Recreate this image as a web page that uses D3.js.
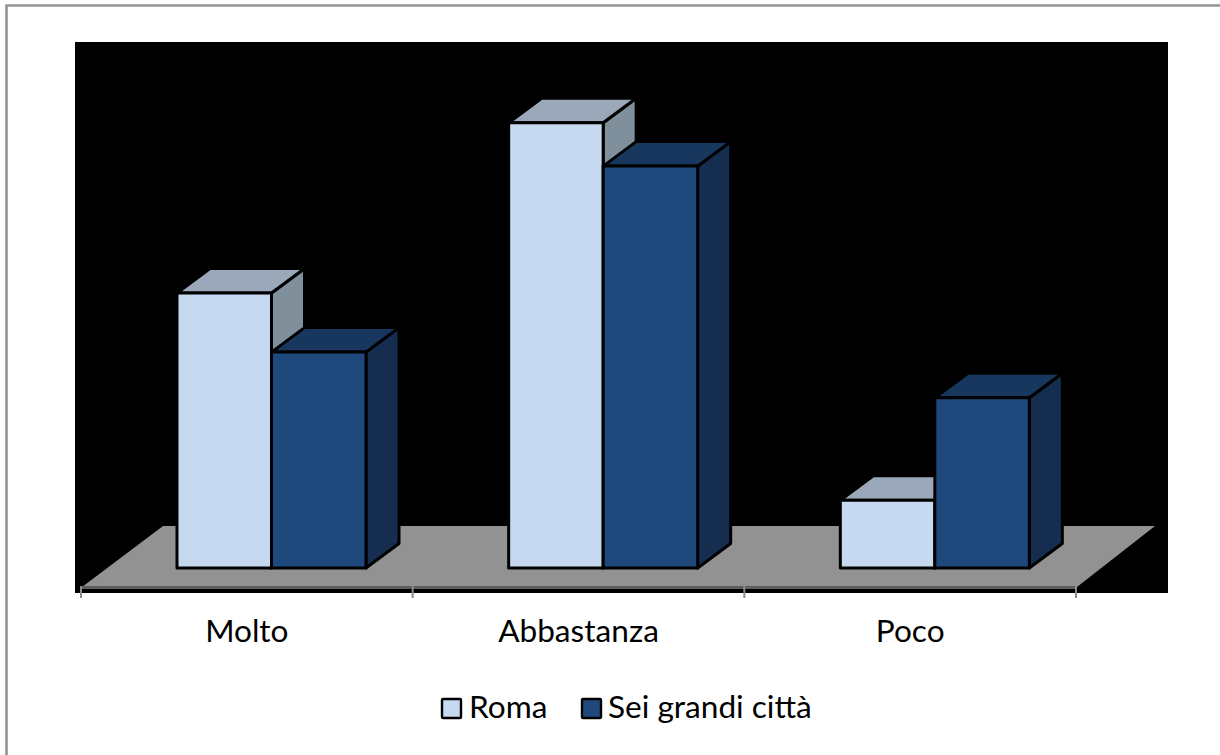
<!DOCTYPE html>
<html><head><meta charset="utf-8">
<script src="https://cdnjs.cloudflare.com/ajax/libs/d3/7.8.5/d3.min.js"></script>
<style>html,body{margin:0;padding:0;background:#fff}svg{display:block}text{font-family:Lato,"Open Sans",sans-serif;fill:#000}</style>
</head><body><svg id="c" width="1220" height="755"></svg>
<script>
const categories = ["Molto","Abbastanza","Poco"];
const seriesNames = ["Roma","Sei grandi città"];
const roma = [34.9,56.5,8.6];
const seiCitta = [27.4,51,21.6];
const frontColors = ["#C6D9F1","#1F497D"];
const topColors = ["#9AA8BA","#17375E"];
const sideColors = ["#808F9C","#152E50"];

const svg = d3.select("#c");
const baseY = 568, dx = 33, dy = 24.5;
const x = d3.scalePoint().domain(d3.range(categories.length+1)).range([81,1076]);
const y = d3.scaleLinear().domain([0,100]).range([baseY,baseY-788]);
const barW = 94.5, groupOffset = 96;
const line = d3.line();

// frame (top and left edges only, the rest is cropped) and wall
svg.append("path").attr("d",line([[6.5,755],[6.5,5.5],[1220,5.5]])).attr("fill","none").attr("stroke","#949494").attr("stroke-width",2.6);
svg.append("rect").attr("x",75).attr("y",42).attr("width",1093).attr("height",551).attr("fill","#000");
// floor
svg.append("path").attr("d",line([[82,587],[163,526],[1155,526],[1077,587]])+"Z").attr("fill","#929292");
svg.append("rect").attr("x",82).attr("y",586).attr("width",995).attr("height",3).attr("fill","#5f5f5f");
// ticks
svg.selectAll("line.tick").data(x.domain()).join("line").attr("class","tick")
  .attr("x1",d=>x(d)).attr("x2",d=>x(d)).attr("y1",586).attr("y2",598)
  .attr("stroke","#8c8c8c").attr("stroke-width",2);

// bars
[roma,seiCitta].forEach((vals,s)=>{
  vals.forEach((v,i)=>{
    const x0 = x(i)+groupOffset+s*barW, x1 = x0+barW, t = y(v);
    const g = svg.append("g").attr("stroke","#000").attr("stroke-width",3).attr("stroke-linejoin","round");
    g.append("path").attr("d",line([[x1,t],[x1+dx,t-dy],[x1+dx,baseY-dy],[x1,baseY]])+"Z").attr("fill",sideColors[s]);
    g.append("path").attr("d",line([[x0,t],[x0+dx,t-dy],[x1+dx,t-dy],[x1,t]])+"Z").attr("fill",topColors[s]);
    g.append("rect").attr("x",x0).attr("y",t).attr("width",barW).attr("height",baseY-t).attr("fill",frontColors[s]);
  });
});
// category labels
svg.selectAll("text.cat").data(categories).join("text").attr("class","cat")
  .attr("x",(d,i)=>(x(i)+x(i+1))/2).attr("y",642).attr("text-anchor","middle")
  .attr("font-size",31.6).text(d=>d);
// legend
const lx = [442,582], tx = [469,608];
seriesNames.forEach((n,s)=>{
  svg.append("rect").attr("x",lx[s]).attr("y",699).attr("width",19).attr("height",19).attr("rx",1).attr("fill",frontColors[s]).attr("stroke","#000").attr("stroke-width",2.4);
  svg.append("text").attr("x",tx[s]).attr("y",718).attr("font-size",31.6).text(n);
});
</script></body></html>
